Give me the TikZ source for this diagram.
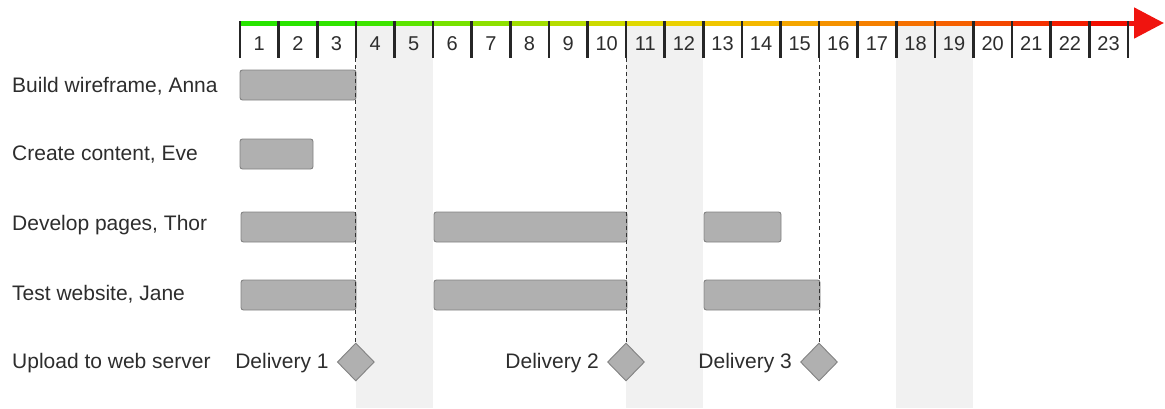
\documentclass[tikz,border=0pt]{standalone}
\usepackage{fontspec}
\setmainfont{Liberation Sans}
\usetikzlibrary{shapes.geometric,arrows.meta}
\definecolor{txt}{RGB}{45,45,45}
\definecolor{barfill}{RGB}{176,176,176}
\definecolor{barline}{RGB}{130,130,130}
\definecolor{colband}{RGB}{241,241,241}
\definecolor{headred}{RGB}{240,20,15}
\tikzset{
  lbl/.style={anchor=west, text=txt, inner sep=0pt, font=\fontsize{21}{25}\selectfont},
  num/.style={text=txt, inner sep=0pt, font=\fontsize{20}{24}\selectfont},
  taskbar/.style={draw=barline, fill=barfill, line width=0.9pt, rounded corners=2.5pt},
  milestone/.style={diamond, draw=barline, fill=barfill, line width=0.9pt,
    minimum width=37pt, minimum height=38pt, inner sep=0pt},
  tick/.style={line width=2.6pt, draw=black!85},
  guide/.style={draw=black!80, line width=0.9pt, dash pattern=on 4pt off 3pt},
}
\begin{document}
\begin{tikzpicture}[x=1pt,y=-1pt]
\useasboundingbox (0,0) rectangle (1165,408);
\def\cw{38.6}
\pgfmathsetmacro{\xo}{240}

% shaded week columns
\foreach \a in {4,11,18}{
  \fill[colband] ({\xo+(\a-1)*\cw},25) rectangle ({\xo+(\a+1)*\cw},408);
}

% coloured time axis, one segment per unit
\foreach \i/\r/\g in {1/40/228,2/42/228,3/48/228,4/62/228,5/92/228,6/120/226,7/142/224,
  8/162/222,9/182/220,10/205/218,11/224/216,12/234/208,13/240/198,14/244/184,15/245/166,
  16/245/146,17/245/128,18/245/112,19/245/96,20/244/72,21/243/48,22/242/28,23/241/14}{
  \definecolor{seg}{RGB}{\r,\g,0}
  \fill[seg] ({\xo+(\i-1)*\cw},20.5) rectangle ({\xo+\i*\cw+0.5},25.5);
  \node[num] (n\i) at ({\xo+(\i-0.5)*\cw},44) {\i};
}
\coordinate (axend) at ({\xo+23*\cw},23);
\coordinate (axtip) at (1164,23);
\draw[headred, line width=5pt, -{Triangle[width=30pt,length=30pt]}] (axend) -- (axtip);

% ticks
\foreach \k in {1,...,24}{
  \coordinate (t\k) at ({\xo+(\k-1)*\cw},21);
  \coordinate (b\k) at ({\xo+(\k-1)*\cw},58);
  \draw[tick] (t\k) -- (b\k);
}

% task labels
\node[lbl] (l1) at (12,86) {Build wireframe, Anna};
\node[lbl] (l2) at (12,155) {Create content, Eve};
\node[lbl] (l3) at (12,225) {Develop pages, Thor};
\node[lbl] (l4) at (12,294) {Test website, Jane};
\node[lbl] (l5) at (12,363) {Upload to web server};

% task bars
\draw[taskbar] (240,70) rectangle (356,100);
\draw[taskbar] (240,139) rectangle (313,169);
\draw[taskbar] (241,212) rectangle (356,242);
\draw[taskbar] (434,212) rectangle (627,242);
\draw[taskbar] (704,212) rectangle (781,242);
\draw[taskbar] (241,280) rectangle (356,310);
\draw[taskbar] (434,280) rectangle (627,310);
\draw[taskbar] (704,280) rectangle (820,310);

% milestones
\node[milestone] (d1) at ({\xo+3*\cw},362) {};
\node[milestone] (d2) at ({\xo+10*\cw},362) {};
\node[milestone] (d3) at ({\xo+15*\cw},362) {};
\node[lbl, anchor=east] (m1) at ([xshift=-8pt,yshift=-1pt]d1.west) {Delivery 1};
\node[lbl, anchor=east] (m2) at ([xshift=-8pt,yshift=-1pt]d2.west) {Delivery 2};
\node[lbl, anchor=east] (m3) at ([xshift=-8pt,yshift=-1pt]d3.west) {Delivery 3};

% delivery guide lines
\draw[guide] (b4) -- (d1.north);
\draw[guide] (b11) -- (d2.north);
\draw[guide] (b16) -- (d3.north);
\end{tikzpicture}
\end{document}
